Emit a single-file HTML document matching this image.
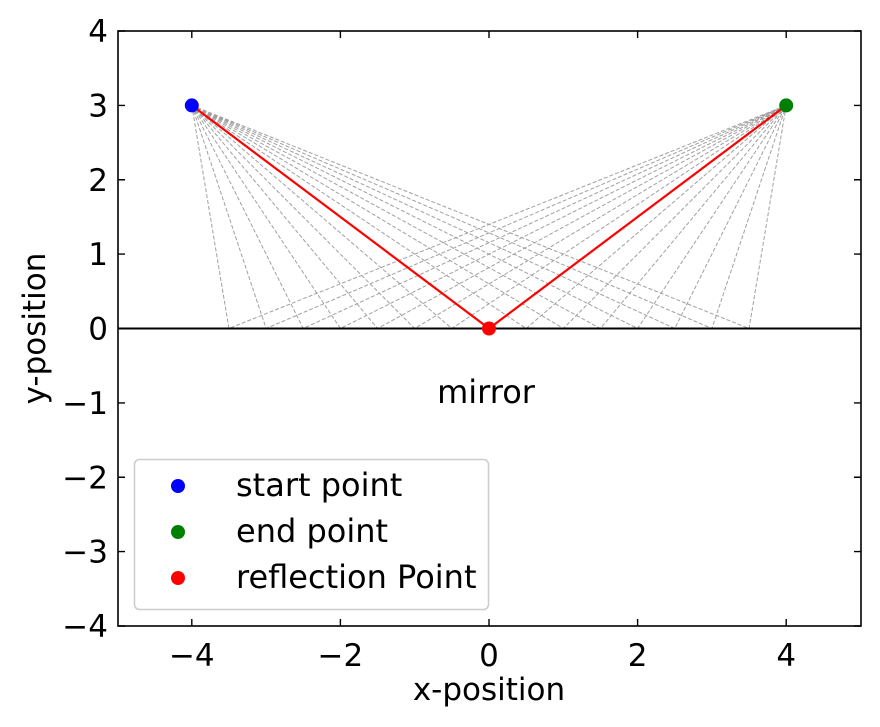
<!DOCTYPE html>
<html><head><meta charset="utf-8"><style>body{margin:0;background:#fff}svg{display:block}text{font-family:"DejaVu Sans","Liberation Sans",sans-serif;fill:#000}</style></head>
<body>
<svg width="880" height="727" viewBox="0 0 880 727" xmlns="http://www.w3.org/2000/svg">
<rect width="880" height="727" fill="#fff"/>
<g stroke="#a0a0a0" stroke-width="1" stroke-dasharray="4,2" fill="none">
<path d="M191.8 105.4L228.95 328.5L786.2 105.4M191.8 105.4L266.1 328.5L786.2 105.4M191.8 105.4L303.25 328.5L786.2 105.4M191.8 105.4L340.4 328.5L786.2 105.4M191.8 105.4L377.55 328.5L786.2 105.4M191.8 105.4L414.7 328.5L786.2 105.4M191.8 105.4L451.85 328.5L786.2 105.4M191.8 105.4L489 328.5L786.2 105.4M191.8 105.4L526.15 328.5L786.2 105.4M191.8 105.4L563.3 328.5L786.2 105.4M191.8 105.4L600.45 328.5L786.2 105.4M191.8 105.4L637.6 328.5L786.2 105.4M191.8 105.4L674.75 328.5L786.2 105.4M191.8 105.4L711.9 328.5L786.2 105.4M191.8 105.4L749.05 328.5L786.2 105.4"/>
</g>
<line x1="118" y1="328.5" x2="861" y2="328.5" stroke="#000" stroke-width="2"/>
<path d="M191.8 105.4L489 328.5L786.2 105.4" stroke="#f00" stroke-width="2.2" fill="none"/>
<circle cx="191.8" cy="105.4" r="7" fill="#00f"/>
<circle cx="786.2" cy="105.4" r="7" fill="#008000"/>
<circle cx="489" cy="328.5" r="7" fill="#f00"/>
<text x="486" y="403" font-size="32" text-anchor="middle">mirror</text>
<rect x="118" y="31" width="743" height="595" fill="none" stroke="#000" stroke-width="1.6"/>
<g stroke="#000" stroke-width="1.4">
<path d="M191.8 626v-7M340.4 626v-7M489 626v-7M637.6 626v-7M786.2 626v-7M191.8 31v7M340.4 31v7M489 31v7M637.6 31v7M786.2 31v7"/>
<path d="M118 31h7M118 105.4h7M118 179.75h7M118 254.1h7M118 328.5h7M118 402.9h7M118 477.25h7M118 551.6h7M118 626h7M861 31h-7M861 105.4h-7M861 179.75h-7M861 254.1h-7M861 328.5h-7M861 402.9h-7M861 477.25h-7M861 551.6h-7M861 626h-7"/>
</g>
<g font-size="31" text-anchor="middle">
<text x="191.8" y="666">−4</text><text x="340.4" y="666">−2</text><text x="489" y="666">0</text><text x="637.6" y="666">2</text><text x="786.2" y="666">4</text>
</g>
<g font-size="31" text-anchor="end">
<text x="108" y="42">4</text><text x="108" y="116.4">3</text><text x="108" y="190.75">2</text><text x="108" y="265.1">1</text><text x="108" y="339.5">0</text><text x="108" y="413.9">−1</text><text x="108" y="488.25">−2</text><text x="108" y="562.6">−3</text><text x="108" y="637">−4</text>
</g>
<text x="489" y="700" font-size="31" text-anchor="middle">x-position</text>
<text transform="translate(45 328.5) rotate(-90)" font-size="31" text-anchor="middle">y-position</text>
<rect x="134.5" y="459.5" width="354" height="150" rx="5" fill="#fff" fill-opacity="0.8" stroke="#ccc" stroke-width="1.5"/>
<circle cx="178" cy="486" r="7" fill="#00f"/>
<circle cx="178" cy="532" r="7" fill="#008000"/>
<circle cx="178" cy="578" r="7" fill="#f00"/>
<g font-size="32">
<text x="236" y="496">start point</text>
<text x="236" y="542">end point</text>
<text x="236" y="588">reflection Point</text>
</g>
</svg>
</body></html>
